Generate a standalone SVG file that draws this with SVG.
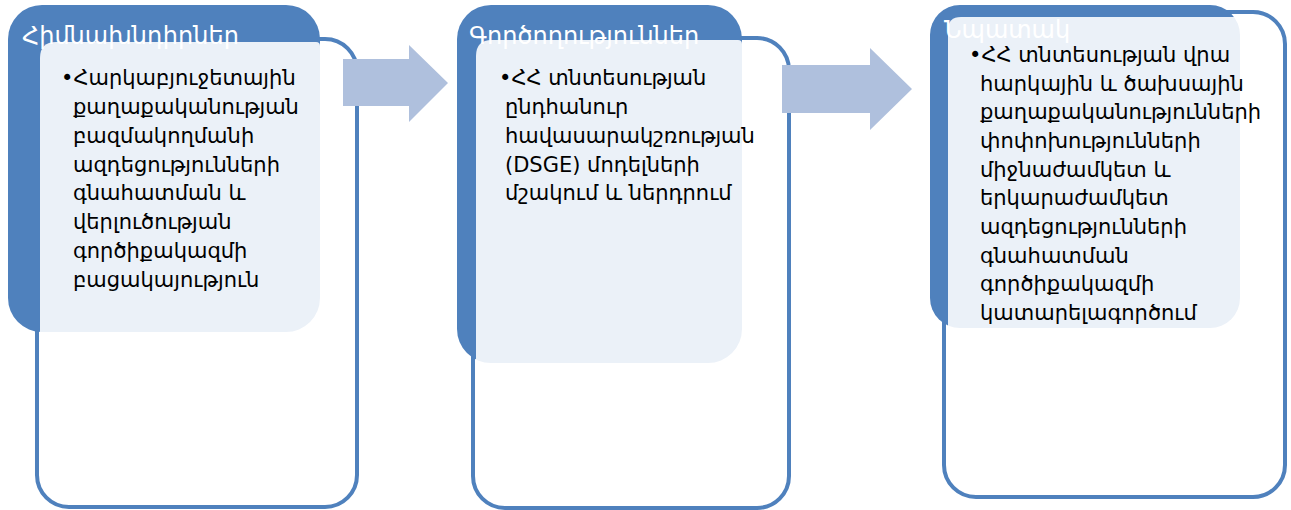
<svg xmlns="http://www.w3.org/2000/svg" width="1291" height="510" viewBox="0 0 1291 510">
<style>
.outline{fill:#ffffff;fill-opacity:0.95;stroke:#4F81BD;stroke-width:4}
.head{fill:#4F81BD}
.panel{fill:#ffffff;fill-opacity:0.885}
.htxt{font-family:"DejaVu Sans",sans-serif;font-size:24px;fill:#ffffff}
.btxt{font-family:"DejaVu Sans",sans-serif;font-size:21px;fill:#000000}
.arrow{fill:#AFC0DD}
</style>
<rect width="1291" height="510" fill="#ffffff"/>
<g id="node1">
<rect class="outline" x="37" y="39" width="320" height="468" rx="32"/>
<rect class="head" x="8" y="5" width="312" height="327" rx="34"/>
<text class="htxt" x="22" y="44">Հիմնախնդիրներ</text>
<path class="panel" d="M40,332 V58 Q40,42 56,42 H316 Q320,42 320,46 V306 Q320,332 294,332 Z"/>
<text class="btxt">
<tspan x="61" y="85">•Հարկաբյուջետային</tspan>
<tspan x="73" y="114">քաղաքականության</tspan>
<tspan x="73" y="143">բազմակողմանի</tspan>
<tspan x="73" y="172">ազդեցությունների</tspan>
<tspan x="73" y="200">գնահատման և</tspan>
<tspan x="73" y="229">վերլուծության</tspan>
<tspan x="73" y="258">գործիքակազմի</tspan>
<tspan x="73" y="287">բացակայություն</tspan>
</text>
</g>
<g id="node2">
<rect class="outline" x="473" y="38" width="316" height="470" rx="32"/>
<rect class="head" x="457" y="5" width="285" height="358" rx="34"/>
<text class="htxt" x="469" y="44">Գործողություններ</text>
<path class="panel" d="M476,363 V56 Q476,40 492,40 H738 Q742,40 742,44 V337 Q742,363 716,363 Z"/>
<text class="btxt">
<tspan x="499" y="85">•ՀՀ տնտեսության</tspan>
<tspan x="505" y="114">ընդհանուր</tspan>
<tspan x="505" y="143">հավասարակշռության</tspan>
<tspan x="505" y="172">(DSGE) մոդելների</tspan>
<tspan x="505" y="200">մշակում և ներդրում</tspan>
</text>
</g>
<g id="node3">
<rect class="outline" x="944" y="12" width="341" height="485" rx="32"/>
<rect class="head" x="930" y="5" width="310" height="323" rx="30"/>
<text class="htxt" x="944" y="38">Նպատակ</text>
<path class="panel" d="M948,338 V30 Q948,17 961,17 H1238 Q1242,17 1242,21 V312 Q1242,338 1216,338 Z"/>
<text class="btxt">
<tspan x="969" y="62">•ՀՀ տնտեսության վրա</tspan>
<tspan x="980" y="91">հարկային և ծախսային</tspan>
<tspan x="980" y="119">քաղաքականությունների</tspan>
<tspan x="980" y="148">փոփոխությունների</tspan>
<tspan x="980" y="177">միջնաժամկետ և</tspan>
<tspan x="980" y="205">երկարաժամկետ</tspan>
<tspan x="980" y="234">ազդեցությունների</tspan>
<tspan x="980" y="263">գնահատման</tspan>
<tspan x="980" y="291">գործիքակազմի</tspan>
<tspan x="980" y="320">կատարելագործում</tspan>
</text>
</g>
<g id="connectors">
<polygon class="arrow" points="343,59 409,59 409,45 448,83 409,122 409,106 343,106"/>
<polygon class="arrow" points="782,65 870,65 870,48 912,89 870,130 870,113 782,113"/>
</g>
</svg>
